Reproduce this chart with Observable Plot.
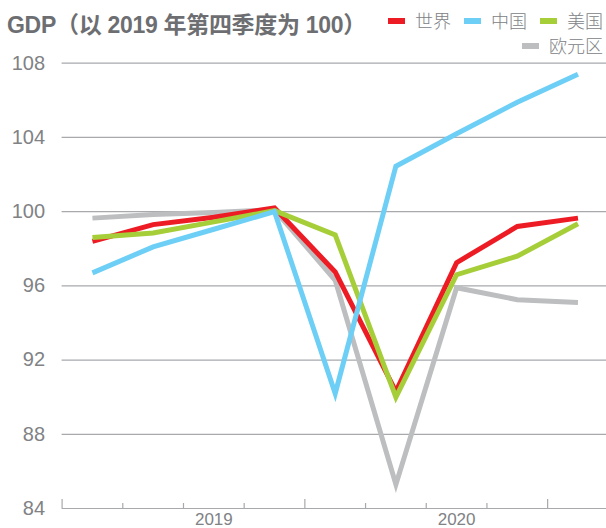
<!DOCTYPE html>
<html><head><meta charset="utf-8">
<script src="https://cdn.jsdelivr.net/npm/d3@7"></script>
<script src="https://cdn.jsdelivr.net/npm/@observablehq/plot@0.6"></script>
<style>
body{margin:0;background:#fff;}
#wrap{position:relative;width:606px;height:528px;overflow:hidden;font-family:"Liberation Sans","Noto Sans CJK SC",sans-serif;}
#title{position:absolute;left:7px;top:6px;font-size:23px;font-weight:bold;color:#6d6e71;white-space:nowrap;z-index:2;letter-spacing:-0.3px}
#legend{position:absolute;right:3px;top:9px;width:232px;display:flex;flex-wrap:wrap;justify-content:flex-end;row-gap:2px;column-gap:13px;font-size:18px;color:#808285;z-index:2;font-family:"Noto Sans CJK SC",sans-serif;line-height:23px;font-weight:300}
.item{display:flex;align-items:center;gap:10px;white-space:nowrap}
.sw{width:17px;height:6px}
#chart svg{position:absolute;left:0;top:0}
</style></head><body>
<div id="wrap"><div id="title">GDP（以 2019 年第四季度为 100）</div><div id="legend"></div><div id="chart"></div></div>
<script>
const quarters = ["2019Q1","2019Q2","2019Q3","2019Q4","2020Q1","2020Q2","2020Q3","2020Q4","2021Q1"];
const world    = [98.4, 99.3, 99.7, 100.2, 96.75, 90.3, 97.25, 99.2, 99.65];
const china    = [96.7, 98.1, 99.05, 100.0, 90.2, 102.45, 104.2, 105.9, 107.4];
const usa      = [98.6, 98.85, 99.45, 100.05, 98.75, 90.0, 96.6, 97.6, 99.35];
const euroArea = [99.65, 99.85, 99.95, 100.1, 96.3, 85.3, 95.9, 95.25, 95.1];
const seriesNames  = ["世界", "中国", "美国", "欧元区"];
const seriesColors = ["#ed1c24", "#6dcff6", "#a6ce39", "#bcbec0"];
const yTicks = [84, 88, 92, 96, 100, 104, 108];
const years = ["2019", "2020"];

const seriesValues = [world, china, usa, euroArea];
// draw order: gray, red, green, blue on top
const drawOrder = [3, 0, 2, 1];

const rows = [];
drawOrder.forEach(s => seriesValues[s].forEach((v, i) => rows.push({series: seriesNames[s], i, v})));

const boundaries = quarters.map((q, i) => ({pos: i - 0.5, major: q.endsWith("Q1")}));
const majorTicks = boundaries.filter(d => d.major).map(d => d.pos);
const minorTicks = boundaries.filter(d => !d.major).map(d => d.pos);
const yearPos = years.map(y => quarters.indexOf(y + "Q3"));

const marginTop = 62.7, marginBottom = 20, H = 528;
const frameH = H - marginTop - marginBottom;

const chart = Plot.plot({
  width: 606,
  height: H,
  marginTop, marginBottom,
  marginLeft: 61.6,
  marginRight: 0,
  style: {fontFamily: "Liberation Sans, sans-serif", background: "transparent", overflow: "visible"},
  x: {type: "linear", domain: [-0.5, quarters.length - 0.53]},
  y: {domain: [84, 108]},
  color: {domain: seriesNames, range: seriesColors},
  marks: [
    Plot.ruleY(yTicks, {stroke: "#a7a9ac", strokeWidth: 1.2}),
    Plot.tickX(majorTicks, {x: d => d, stroke: "#a7a9ac", strokeWidth: 1.2, insetTop: frameH - 9}),
    Plot.tickX(minorTicks, {x: d => d, stroke: "#a7a9ac", strokeWidth: 1.2, insetTop: frameH - 5}),
    ...drawOrder.map(s => Plot.line(rows.filter(r => r.series === seriesNames[s]), {
      x: "i", y: "v", stroke: seriesColors[s], strokeWidth: 5,
      strokeLinejoin: "miter", strokeMiterlimit: 10, strokeLinecap: "butt"
    })),
    Plot.axisY(yTicks, {tickSize: 0, tickPadding: 17, fontSize: 20, fill: "#808285", label: null}),
    Plot.axisX(yearPos, {tickSize: 0, tickPadding: 4, fontSize: 17, fill: "#808285", label: null,
      tickFormat: d => years[yearPos.indexOf(d)]})
  ]
});
document.getElementById("chart").appendChild(chart);

const legend = document.getElementById("legend");
seriesNames.forEach((name, k) => {
  const item = document.createElement("div");
  item.className = "item";
  const sw = document.createElement("span");
  sw.className = "sw";
  sw.style.background = seriesColors[k];
  const t = document.createElement("span");
  t.textContent = name;
  item.appendChild(sw); item.appendChild(t);
  legend.appendChild(item);
});
</script>
</body></html>
